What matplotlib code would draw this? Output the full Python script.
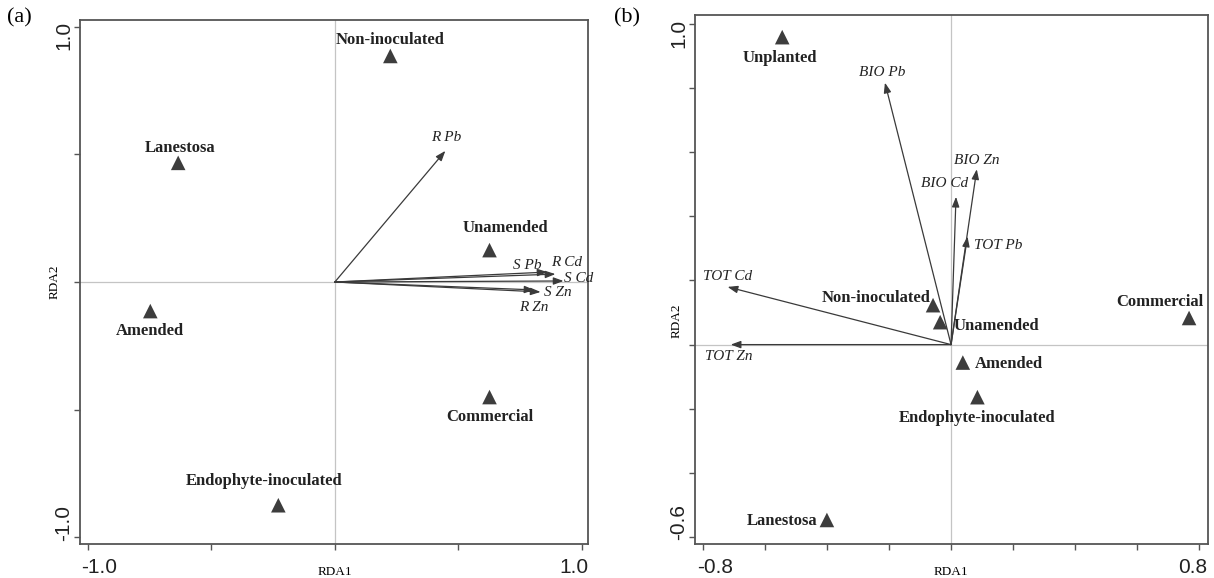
import matplotlib
matplotlib.use("Agg")
import matplotlib.pyplot as plt
from matplotlib.transforms import ScaledTranslation

plt.rcParams['font.family'] = ['Liberation Serif', 'DejaVu Serif']

# ---- panel (a): RDA of root/shoot metal contents ----
sites_a = ["Non-inoculated", "Lanestosa", "Amended", "Unamended",
           "Commercial", "Endophyte-inoculated"]
site_x_a = [0.225, -0.635, -0.748, 0.627, 0.627, -0.229]
site_y_a = [0.886, 0.467, -0.114, 0.125, -0.451, -0.875]

vars_a = ["R Pb", "S Pb", "R Cd", "S Cd", "S Zn", "R Zn"]
var_x_a = [0.448, 0.862, 0.894, 0.927, 0.834, 0.809]
var_y_a = [0.514, 0.039, 0.031, 0.004, -0.039, -0.031]

# ---- panel (b): RDA of bioavailable/total metals ----
sites_b = ["Unplanted", "Non-inoculated", "Unamended", "Commercial",
           "Amended", "Endophyte-inoculated", "Lanestosa"]
site_x_b = [-0.544, -0.058, -0.035, 0.767, 0.038, 0.085, -0.400]
site_y_b = [0.959, 0.123, 0.070, 0.083, -0.056, -0.164, -0.547]

vars_b = ["BIO Pb", "BIO Zn", "BIO Cd", "TOT Pb", "TOT Cd", "TOT Zn"]
var_x_b = [-0.213, 0.083, 0.016, 0.053, -0.720, -0.710]
var_y_b = [0.817, 0.547, 0.461, 0.337, 0.180, 0.000]

# label offsets in pixels (dx, dy, ha)
site_off_a = [(0, 16, 'center'), (2, 15, 'center'), (0, -20, 'center'),
              (16, 22, 'center'), (0, -20, 'center'), (-14, 24, 'center')]
var_off_a = [(1, 13, 'center'), (-20, 7, 'center'), (11, 12, 'center'),
             (15, 2, 'center'), (17, -1, 'center'), (-1, -18, 'center')]
site_off_b = [(-2, -21, 'center'), (-3, 7, 'right'), (13, -4, 'left'),
              (-29, 16, 'center'), (12, -1, 'left'), (0, -21, 'center'),
              (-10, -1, 'right')]
var_off_b = [(-3, 10, 'center'), (0, 9, 'center'), (-11, 13, 'center'),
             (31, -9, 'center'), (0, 10, 'center'), (-2, -12, 'center')]

fig = plt.figure(figsize=(12.14, 5.78), dpi=100)
ax1 = fig.add_axes([0.0659, 0.0588, 0.4184, 0.9066])
ax2 = fig.add_axes([0.5725, 0.0588, 0.4223, 0.9152])

FRAME = '#555555'
MARK = '#3d3d3d'


def rda_panel(ax, sx, sy, snames, soff, vx, vy, vnames, voff):
    ax.axhline(0, color='#c4c4c4', lw=0.9, zorder=0)
    ax.axvline(0, color='#c4c4c4', lw=0.9, zorder=0)
    for x, y in zip(vx, vy):
        ax.annotate('', xy=(x, y), xytext=(0, 0),
                    arrowprops=dict(arrowstyle='-|>,head_length=0.6,head_width=0.22',
                                    mutation_scale=10, color='#3a3a3a', lw=0.9,
                                    shrinkA=0, shrinkB=0))
    for x, y, name, (dx, dy, ha) in zip(vx, vy, vnames, voff):
        ax.annotate(name, (x, y), xytext=(dx, dy), textcoords='offset pixels',
                    ha=ha, va='center', fontsize=11, style='italic',
                    color='#222222')
    ax.scatter(sx, sy, marker='^', s=110, color=MARK, edgecolor='none', zorder=3)
    for x, y, name, (dx, dy, ha) in zip(sx, sy, snames, soff):
        ax.annotate(name, (x, y), xytext=(dx, dy), textcoords='offset pixels',
                    ha=ha, va='center', fontsize=12, fontweight='bold',
                    color='#222222')
    for sp in ax.spines.values():
        sp.set_color(FRAME)
        sp.set_linewidth(1.3)
    ax.tick_params(length=4, width=1, color=FRAME, labelsize=15, pad=6)
    ax.tick_params(axis='y', pad=1)
    ax.set_xlabel('RDA1', fontsize=9.5)
    ax.set_ylabel('RDA2', fontsize=9.5)


def end_labels(ax, xt, yt, xshift, yshift):
    ax.set_xticks(xt)
    ax.set_yticks(yt)
    ax.set_xticklabels(['{:.1f}'.format(v) if i in (0, len(xt) - 1) else ''
                        for i, v in enumerate(xt)])
    ax.set_yticklabels(['{:.1f}'.format(v) if i in (0, len(yt) - 1) else ''
                        for i, v in enumerate(yt)], rotation=90, va='center')
    xl = ax.get_xticklabels()
    yl = ax.get_yticklabels()
    for lab, d in ((xl[0], xshift[0]), (xl[-1], xshift[1])):
        lab.set_transform(lab.get_transform() + ScaledTranslation(d / 100, 0, fig.dpi_scale_trans))
    for lab, d in ((yl[0], yshift[0]), (yl[-1], yshift[1])):
        lab.set_transform(lab.get_transform() + ScaledTranslation(0, d / 100, fig.dpi_scale_trans))
    for lab in xl + yl:
        lab.set_fontfamily('Liberation Sans')
        lab.set_fontsize(15)
        lab.set_color('#222222')


rda_panel(ax1, site_x_a, site_y_a, sites_a, site_off_a,
          var_x_a, var_y_a, vars_a, var_off_a)
ax1.set_xlim(-1.033, 1.026)
ax1.set_ylim(-1.027, 1.027)
end_labels(ax1, [-1.0, -0.5, 0.0, 0.5, 1.0], [-1.0, -0.5, 0.0, 0.5, 1.0],
           (11, -8), (14, -9))
ax1.xaxis.set_label_coords(0.502, -0.042)
ax1.yaxis.set_label_coords(-0.039, 0.5)

rda_panel(ax2, site_x_b, site_y_b, sites_b, site_off_b,
          var_x_b, var_y_b, vars_b, var_off_b)
ax2.set_xlim(-0.825, 0.827)
ax2.set_ylim(-0.622, 1.028)
xt_b = [-0.8, -0.6, -0.4, -0.2, 0.0, 0.2, 0.4, 0.6, 0.8]
yt_b = [-0.6, -0.4, -0.2, 0.0, 0.2, 0.4, 0.6, 0.8, 1.0]
end_labels(ax2, xt_b, yt_b, (12, -7), (15, -9))
ax2.xaxis.set_label_coords(0.5, -0.042)
ax2.yaxis.set_label_coords(-0.025, 0.423)

fig.text(0.006, 0.985, '(a)', fontsize=16, va='top', ha='left')
fig.text(0.506, 0.985, '(b)', fontsize=16, va='top', ha='left')

fig.savefig('out.png', dpi=100)
